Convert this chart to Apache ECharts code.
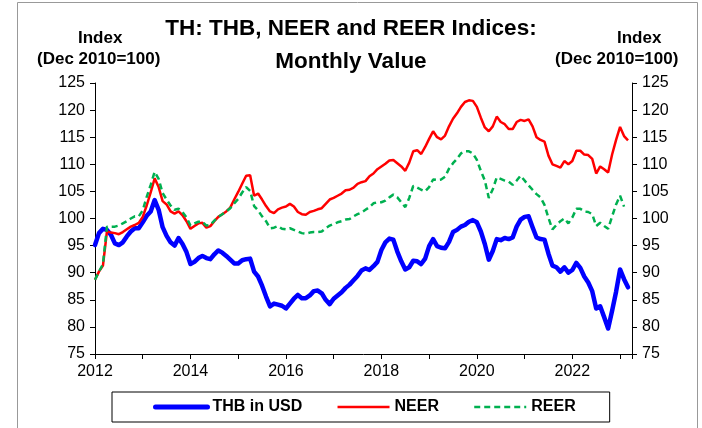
<!DOCTYPE html>
<html>
<head>
<meta charset="utf-8">
<script src="https://cdn.jsdelivr.net/npm/echarts@6.0.0/dist/echarts.min.js"></script>
<style>
  html, body { margin: 0; padding: 0; background: #fff; }
  #chart { width: 702px; height: 428px; }
</style>
</head>
<body>
<div id="chart"></div>
<script>
// monthly values, Jan 2012 onwards (one row per year)
const startYear = 2012
const thbUsd = [
  95.1, 97.3, 98.1, 97.9, 97.0, 95.4, 95.1, 95.6, 96.7, 97.6, 98.2, 98.2,
  99.3, 100.5, 101.3, 103.4, 101.6, 98.4, 96.8, 95.6, 95.0, 96.4, 95.3, 93.8,
  91.6, 92.0, 92.7, 93.1, 92.7, 92.5, 93.4, 94.1, 93.7, 93.1, 92.4, 91.7,
  91.7, 92.3, 92.5, 92.6, 90.2, 89.3, 87.6, 85.6, 83.8, 84.3, 84.1, 83.9,
  83.4, 84.3, 85.2, 85.9, 85.3, 85.3, 85.8, 86.6, 86.7, 86.2, 85.0, 84.2,
  85.2, 85.8, 86.4, 87.2, 87.8, 88.6, 89.4, 90.4, 90.8, 90.5, 91.2, 92.0,
  94.2, 95.6, 96.3, 96.1, 93.9, 92.1, 90.6, 91.0, 92.2, 92.1, 91.6, 92.6,
  94.9, 96.2, 94.9, 94.6, 94.5, 95.7, 97.5, 97.9, 98.5, 98.8, 99.4, 99.7,
  99.3, 97.6, 95.3, 92.4, 94.0, 96.2, 96.0, 96.4, 96.2, 96.5, 98.5, 99.8,
  100.3, 100.4, 98.4, 96.5, 96.2, 96.1, 93.5, 91.3, 91.0, 90.2, 91.0, 90.0,
  90.5, 91.8, 90.9, 89.3, 88.2, 86.6, 83.4, 83.8, 81.8, 79.7, 83.0, 86.5,
  90.6, 88.8, 87.3
]
const neer = [
  88.7, 90.2, 91.3, 97.6, 97.4, 97.3, 97.1, 97.5, 98.0, 98.5, 98.8, 99.2,
  100.3, 102.4, 104.8, 107.4, 105.8, 103.2, 102.6, 101.3, 100.9, 101.3, 100.6, 99.5,
  98.1, 98.6, 99.1, 99.2, 98.3, 98.6, 99.5, 100.3, 100.8, 101.3, 102.0, 103.5,
  104.9, 106.4, 107.9, 108.0, 104.2, 104.6, 103.5, 102.3, 101.3, 101.0, 101.7, 102.0,
  102.2, 102.7, 102.2, 101.2, 100.8, 100.7, 101.2, 101.4, 101.7, 101.9, 102.7, 103.5,
  103.8, 104.2, 104.6, 105.2, 105.3, 105.7, 106.4, 106.7, 106.9, 107.8, 108.3, 109.1,
  109.6, 110.1, 110.7, 110.8, 110.2, 109.6, 108.8, 110.3, 112.4, 112.6, 111.9, 113.2,
  114.7, 116.1, 115.0, 114.6, 115.3, 117.0, 118.4, 119.4, 120.6, 121.5, 121.8, 121.7,
  120.6, 118.6, 116.8, 116.1, 117.0, 118.8, 117.8, 117.4, 116.5, 116.5, 117.8, 118.2,
  118.0, 118.3, 117.0, 115.0, 114.5, 114.2, 111.6, 110.0, 109.7, 109.4, 110.6, 110.0,
  110.6, 112.5, 112.5, 111.8, 111.7, 111.0, 108.3, 109.6, 109.1, 108.5, 111.8, 114.5,
  116.9, 115.2, 114.4
]
const reer = [
  88.7, 90.2, 91.6, 98.5, 98.5, 98.5, 98.7, 99.1, 99.5, 100.0, 100.4, 100.4,
  101.5, 104.0, 106.2, 108.6, 107.3, 104.7, 103.5, 102.4, 101.6, 101.8, 101.2, 100.2,
  98.7, 99.1, 99.4, 99.4, 98.7, 98.8, 99.6, 100.3, 100.8, 101.3, 101.9, 102.8,
  103.6, 104.8, 105.8, 105.1, 102.3, 101.5, 100.4, 99.5, 98.2, 98.3, 98.6, 98.1,
  98.0, 98.2, 97.9, 97.6, 97.3, 97.2, 97.4, 97.5, 97.5, 97.6, 98.2, 98.7,
  99.0, 99.3, 99.5, 99.8, 99.9, 100.4, 100.8, 101.1, 101.6, 102.1, 102.8, 103.0,
  103.0, 103.3, 103.9, 104.4, 103.9, 103.0, 102.1, 103.8, 106.0, 105.7, 105.3, 105.0,
  105.8, 107.2, 107.1, 107.2, 107.7, 109.2, 110.2, 111.0, 112.0, 112.4, 112.4, 112.0,
  110.8, 108.8, 107.0, 103.8, 105.4, 107.6, 107.3, 107.0, 106.8, 106.2, 107.0, 107.9,
  107.0, 106.1, 105.3, 104.5, 103.9, 102.5, 100.1, 98.0, 98.8, 99.5, 100.0, 99.1,
  100.2, 101.8, 101.8, 101.3, 101.2, 100.8, 98.6, 99.2, 98.6, 98.1, 100.4, 102.6,
  104.2, 102.2
]
const seriesNames = ['THB in USD', 'NEER', 'REER']
const yTicks = { min: 75, max: 125, step: 5 }
const lastMonth = 135

const font = 'Liberation Sans, Arial, sans-serif'
const toPairs = arr => arr.map((v, i) => [i, v])

const chart = echarts.init(document.getElementById('chart'))

const yAxisBase = {
  type: 'value',
  min: yTicks.min,
  max: yTicks.max,
  interval: yTicks.step,
  splitLine: { show: false },
  axisLine: { show: true, lineStyle: { color: '#000', width: 1 } },
  axisTick: { show: true, inside: false, length: 5, lineStyle: { color: '#000' } },
  axisLabel: { color: '#000', fontSize: 16, fontFamily: font, margin: 10 }
}

chart.setOption({
  animation: false,
  backgroundColor: '#fff',
  title: {
    text: 'TH: THB, NEER and REER Indices:\nMonthly Value',
    left: 'center',
    top: 7,
    textStyle: {
      color: '#000',
      fontWeight: 'bold',
      fontSize: 22.5,
      lineHeight: 33,
      fontFamily: font
    }
  },
  graphic: [
    {
      type: 'rect',
      shape: { x: 17.5, y: 2.5, width: 680, height: 440 },
      style: { fill: 'none', stroke: '#999', lineWidth: 1 },
      silent: true
    },
    {
      type: 'text', left: 78, top: 30,
      style: { text: 'Index', fill: '#000', font: 'bold 17px ' + font }
    },
    {
      type: 'text', left: 37, top: 51,
      style: { text: '(Dec 2010=100)', fill: '#000', font: 'bold 17px ' + font }
    },
    {
      type: 'text', left: 617, top: 30,
      style: { text: 'Index', fill: '#000', font: 'bold 17px ' + font }
    },
    {
      type: 'text', left: 555, top: 51,
      style: { text: '(Dec 2010=100)', fill: '#000', font: 'bold 17px ' + font }
    }
  ],
  legend: {
    data: [
      { name: seriesNames[0], lineStyle: { width: 5 } },
      { name: seriesNames[1], lineStyle: { width: 2.5 } },
      { name: seriesNames[2], lineStyle: { width: 2.5 } }
    ],
    left: 112,
    top: 392,
    padding: [7, 34, 7, 41],
    itemGap: 34,
    itemWidth: 52,
    itemHeight: 14,
    itemStyle: { opacity: 0 },
    borderColor: '#000',
    borderWidth: 1,
    textStyle: { color: '#000', fontSize: 16, fontWeight: 'bold', fontFamily: font }
  },
  grid: { left: 95, right: 70, top: 83, bottom: 74 },
  xAxis: {
    type: 'value',
    min: 0,
    max: lastMonth,
    interval: 12,
    splitLine: { show: false },
    axisLine: { show: true, lineStyle: { color: '#000', width: 1 } },
    axisTick: { show: true, inside: false, length: 5, lineStyle: { color: '#000' } },
    axisLabel: {
      color: '#000', fontSize: 16, fontFamily: font, margin: 10,
      formatter: v => (v % 24 === 0 ? String(startYear + v / 12) : '')
    }
  },
  yAxis: [
    Object.assign({}, yAxisBase, { position: 'left' }),
    Object.assign({}, yAxisBase, { position: 'right' })
  ],
  series: [
    {
      name: seriesNames[0], type: 'line', data: toPairs(thbUsd),
      showSymbol: false, symbol: 'none',
      itemStyle: { color: '#0000ff' },
      lineStyle: { color: '#0000ff', width: 4.5, cap: 'round', join: 'round' }
    },
    {
      name: seriesNames[1], type: 'line', data: toPairs(neer),
      showSymbol: false, symbol: 'none',
      itemStyle: { color: '#ff0000' },
      lineStyle: { color: '#ff0000', width: 2.5 }
    },
    {
      name: seriesNames[2], type: 'line', data: toPairs(reer),
      showSymbol: false, symbol: 'none',
      itemStyle: { color: '#00b050' },
      lineStyle: { color: '#00b050', width: 2.5, type: [6, 4] }
    }
  ]
})
</script>
</body>
</html>
